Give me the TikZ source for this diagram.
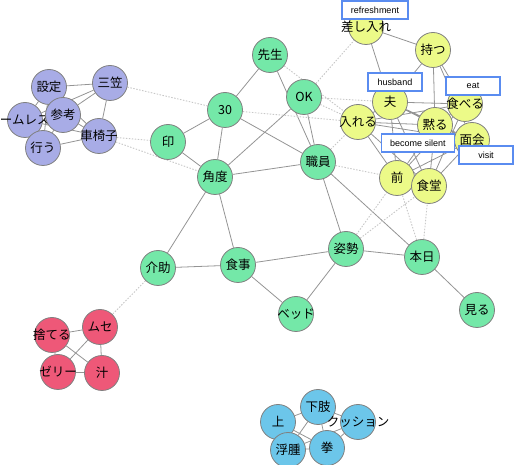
\documentclass[tikz,border=0pt]{standalone}
\usepackage{fontspec}
\setmainfont{Liberation Sans}
\newfontfamily\cjk{Noto Sans CJK JP}
\usetikzlibrary{backgrounds}
\definecolor{purpword}{RGB}{168,172,230}
\definecolor{greenword}{RGB}{116,232,168}
\definecolor{yellword}{RGB}{236,250,136}
\definecolor{redword}{RGB}{238,88,120}
\definecolor{blueword}{RGB}{108,198,234}
\definecolor{glossline}{RGB}{90,140,240}
\newcommand\zw[1]{\makebox[0pt]{#1}}
\tikzset{
  word/.style={circle, draw=black!50, line width=0.8pt, minimum size=35pt, inner sep=0pt, font=\cjk\fontsize{12.5}{12.5}\selectfont},
  strong/.style={draw=black!42, line width=0.8pt},
  weak/.style={draw=black!22, line width=0.9pt, dash pattern=on 1.5pt off 1.5pt},
  gloss/.style={draw=glossline, fill=white, line width=1.1pt, minimum width=54pt, minimum height=18pt, inner xsep=9pt, font=\fontsize{9}{9}\selectfont},
}

\begin{document}
\begin{tikzpicture}[x=1pt, y=-1pt]
  \useasboundingbox (0,0) rectangle (515,465);

  % Purple
  \node[word, fill=purpword] (settei) at (49,87) {設定};
  \node[word, fill=purpword] (mikasa) at (110,83) {三笠};
  \node[word, fill=purpword] (armrest) at (25,120) {\zw{\hspace*{12pt}ームレスト}};
  \node[word, fill=purpword] (sanko) at (63,115) {参考};
  \node[word, fill=purpword] (okonau) at (43,148) {行う};
  \node[word, fill=purpword] (kurumaisu) at (99,136) {\zw{車椅子}};

  % Green
  \node[word, fill=greenword] (sensei) at (270,55) {先生};
  \node[word, fill=greenword] (thirty) at (225,110) {30};
  \node[word, fill=greenword] (ok) at (304,97) {OK};
  \node[word, fill=greenword] (shirushi) at (168,142) {印};
  \node[word, fill=greenword] (kakudo) at (215,177) {角度};
  \node[word, fill=greenword] (shokuin) at (318,162) {職員};
  \node[word, fill=greenword] (kaijo) at (158,268) {介助};
  \node[word, fill=greenword] (shokuji) at (238,265) {食事};
  \node[word, fill=greenword] (shisei) at (346,249) {姿勢};
  \node[word, fill=greenword] (bed) at (296,314) {\zw{ベッド}};
  \node[word, fill=greenword] (honjitsu) at (422,257) {本日};
  \node[word, fill=greenword] (miru) at (477,310) {見る};

  % Yellow
  \node[word, fill=yellword] (sashiire) at (366,27) {\zw{差し入れ}};
  \node[word, fill=yellword] (motsu) at (433,50) {持つ};
  \node[word, fill=yellword] (otto) at (390,102) {夫};
  \node[word, fill=yellword] (taberu) at (465,104) {\zw{食べる}};
  \node[word, fill=yellword] (ireru) at (358,122) {\zw{入れる}};
  \node[word, fill=yellword] (damaru) at (435,125) {黙る};
  \node[word, fill=yellword] (menkai) at (472,140) {面会};
  \node[word, fill=yellword] (mae) at (397,178) {前};
  \node[word, fill=yellword] (shokudo) at (429,186) {食堂};

  % Red
  \node[word, fill=redword] (suteru) at (52,335) {\zw{捨てる}};
  \node[word, fill=redword] (muse) at (100,327) {ムセ};
  \node[word, fill=redword] (jelly) at (58,372) {\zw{ゼリー}};
  \node[word, fill=redword] (shiru) at (102,373) {汁};

  % Blue
  \node[word, fill=blueword] (ue) at (278,422) {上};
  \node[word, fill=blueword] (kashi) at (318,407) {下肢};
  \node[word, fill=blueword] (cushion) at (358,422) {\zw{クッション}};
  \node[word, fill=blueword] (fushu) at (288,450) {浮腫};
  \node[word, fill=blueword] (kobushi) at (327,448) {拳};

  \begin{scope}[on background layer]
    % inside the groups
    \draw[strong] (settei) -- (mikasa) (settei) -- (armrest) (settei) -- (sanko) (settei) -- (okonau)
      (settei) -- (kurumaisu) (mikasa) -- (sanko) (mikasa) -- (armrest) (mikasa) -- (kurumaisu)
      (sanko) -- (kurumaisu) (sanko) -- (okonau) (armrest) -- (okonau) (armrest) -- (kurumaisu)
      (okonau) -- (kurumaisu);
    \draw[strong] (sensei) -- (thirty) (sensei) -- (shokuin) (ok) -- (kakudo) (ok) -- (shokuin)
      (thirty) -- (shirushi) (thirty) -- (kakudo) (thirty) -- (shokuin) (shirushi) -- (kakudo)
      (kakudo) -- (shokuin) (kakudo) -- (kaijo) (kakudo) -- (shokuji) (shokuin) -- (shisei)
      (shokuin) -- (honjitsu) (kaijo) -- (shokuji) (shokuji) -- (shisei) (shokuji) -- (bed)
      (shisei) -- (bed) (shisei) -- (honjitsu) (honjitsu) -- (miru);
    \draw[strong] (sashiire) -- (motsu) (sashiire) -- (otto) (motsu) -- (otto) (motsu) -- (damaru)
      (motsu) -- (taberu) (motsu) -- (menkai) (otto) -- (ireru) (otto) -- (damaru) (otto) -- (taberu)
      (otto) -- (menkai) (otto) -- (mae) (otto) -- (shokudo) (ireru) -- (damaru) (ireru) -- (taberu)
      (ireru) -- (menkai) (ireru) -- (mae) (ireru) -- (shokudo) (damaru) -- (mae) (damaru) -- (shokudo)
      (damaru) -- (taberu) (damaru) -- (menkai) (menkai) -- (mae) (menkai) -- (shokudo)
      (taberu) -- (mae) (taberu) -- (shokudo) (mae) -- (shokudo);
    \draw[strong] (suteru) -- (muse) (suteru) -- (shiru) (suteru) -- (jelly) (muse) -- (jelly)
      (muse) -- (shiru) (jelly) -- (shiru);
    \draw[strong] (ue) -- (kashi) (ue) -- (fushu) (ue) -- (kobushi) (kashi) -- (cushion)
      (kashi) -- (fushu) (kashi) -- (kobushi) (cushion) -- (kobushi) (cushion) -- (fushu)
      (fushu) -- (kobushi);
    % between the groups
    \draw[weak] (mikasa) -- (thirty) (kurumaisu) -- (shirushi) (kurumaisu) -- (kakudo)
      (sensei) -- (ireru) (ok) -- (sashiire) (ok) -- (otto) (ok) -- (ireru) (thirty) -- (ireru)
      (shokuin) -- (ireru) (shokuin) -- (mae) (shisei) -- (mae) (shisei) -- (shokudo)
      (honjitsu) -- (mae) (honjitsu) -- (shokudo) (kaijo) -- (muse);
  \end{scope}

  % English glosses
  \node[gloss] (glRefresh) at (375,10) {refreshment};
  \node[gloss] (glHusband) at (395,82) {husband};
  \node[gloss] (glEat) at (473,86) {eat};
  \node[gloss] (glSilent) at (418,143) {become silent};
  \node[gloss] (glVisit) at (486,155) {visit};
\end{tikzpicture}
\end{document}
